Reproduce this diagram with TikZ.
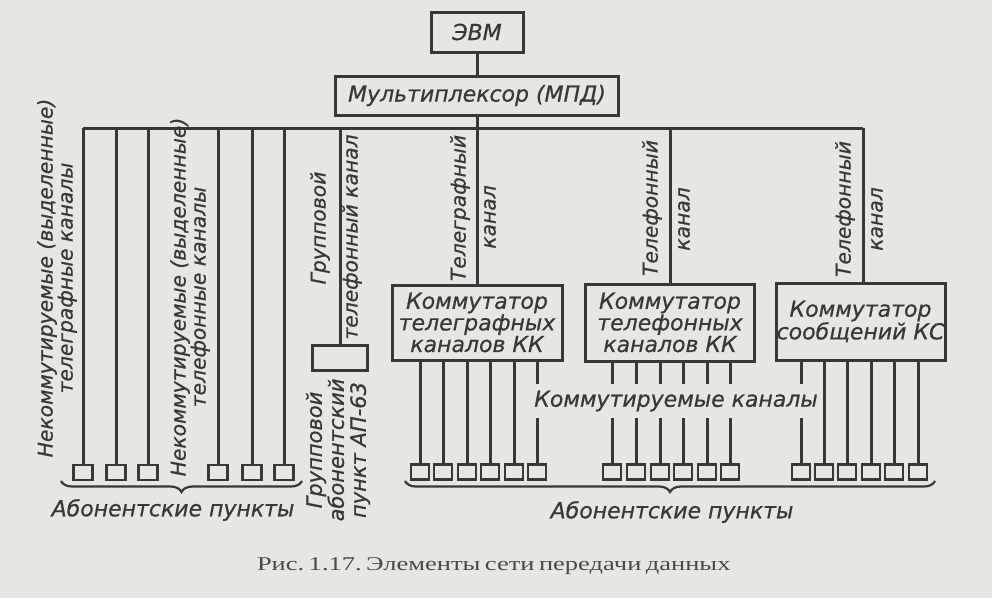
\documentclass[tikz,border=0pt]{standalone}
\usepackage{fontspec}
\setmainfont{Liberation Serif}
\newfontfamily\gost{DejaVu Sans}[FakeBold=0.7]
\newfontfamily\capfont{Liberation Serif}[FakeStretch=1.36]
\usetikzlibrary{decorations.pathreplacing}
\definecolor{bg}{HTML}{E6E6E2}
\definecolor{ink}{HTML}{383838}
\definecolor{capink}{HTML}{4A4A4A}
\tikzset{
  box/.style={draw=ink, line width=3pt, inner sep=0pt, align=center, text=ink,
    font=\gost\itshape\fontsize{22}{19}\selectfont},
  lbl/.style={text=ink, inner sep=0pt, align=center,
    font=\gost\itshape\fontsize{20.3}{19}\selectfont},
  vlbl/.style={lbl, rotate=90},
  term/.style={draw=ink, line width=2.2pt, minimum width=18pt, minimum height=15pt, inner sep=0pt},
  wire/.style={draw=ink, line width=3pt},
  bracestyle/.style={draw=ink, line width=2.2pt, decorate,
    decoration={brace, amplitude=11pt}}
}
\begin{document}
\begin{tikzpicture}[x=1pt,y=-1pt]
\fill[bg] (0,0) rectangle (992,598);
\useasboundingbox (0,0) rectangle (992,598);

% main boxes
\node[box, minimum width=92pt, minimum height=40pt] (evm) at (477,32) {ЭВМ};
\node[box, minimum width=283pt, minimum height=39pt] (mux) at (477,95.5) {Мультиплексор (МПД)};
\node[box, minimum width=170pt, minimum height=75pt] (kk1) at (477,322.5) {Коммутатор\\телеграфных\\каналов КК};
\node[box, minimum width=169pt, minimum height=77pt] (kk2) at (670,322.5) {Коммутатор\\телефонных\\каналов КК};
\node[box, minimum width=169pt, minimum height=77pt] (ks) at (860.5,321.5) {Коммутатор\\сообщений КС};
\node[draw=ink, line width=3pt, minimum width=55pt, minimum height=25pt, inner sep=0pt] (ap) at (340,357.5) {};

% bus
\coordinate (busL) at (83,128);
\coordinate (busR) at (863,128);
\coordinate (gtop) at (0,384);
\coordinate (gbot) at (0,418);

\draw[wire] (evm) -- (mux);
\draw[wire] (mux.south) -- (kk1.north);
\draw[wire] (busL) -- (busR);
\draw[wire] (kk2.north |- busL) -- (kk2.north);
\draw[wire] (busR) -- (busR |- ks.north);
\draw[wire] (ap.north |- busL) -- (ap.north);

% left terminals
\foreach \x [count=\i] in {83,116,148,218,252,284} {
  \node[term, minimum width=19pt] (L\i) at (\x,472.5) {};
  \draw[wire] (L\i.north |- busL) -- (L\i.north);
}
% KK1 terminals
\foreach \x [count=\i] in {420,443,467,490,514,537} {
  \node[term] (A\i) at (\x,472) {};
}
\foreach \i in {1,...,5} { \draw[wire] (A\i.north |- kk1.south) -- (A\i.north); }
\draw[wire] (A6.north |- kk1.south) -- (A6.north |- gtop) (A6.north |- gbot) -- (A6.north);
% KK2 terminals
\foreach \x [count=\i] in {612,636,660,683,707,730} {
  \node[term] (B\i) at (\x,472) {};
  \draw[wire] (B\i.north |- kk2.south) -- (B\i.north |- gtop) (B\i.north |- gbot) -- (B\i.north);
}
% KS terminals
\foreach \x [count=\i] in {801,824,847,871,894,918} {
  \node[term] (C\i) at (\x,472) {};
}
\draw[wire] (C1.north |- ks.south) -- (C1.north |- gtop) (C1.north |- gbot) -- (C1.north);
\foreach \i in {2,...,6} { \draw[wire] (C\i.north |- ks.south) -- (C\i.north); }

% braces
\coordinate (b1s) at (302,481);
\coordinate (b1e) at (61,481);
\coordinate (b2s) at (935,481);
\coordinate (b2e) at (405,481);
\draw[bracestyle] (b1s) -- (b1e);
\draw[bracestyle] (b2s) -- (b2e);

% labels
\node[vlbl] (t1) at (57,278) {Некоммутируемые (выделенные)\\телеграфные каналы};
\node[vlbl] (t2) at (190,297) {Некоммутируемые (выделенные)\\телефонные каналы};
\node[vlbl] (t3a) at (320,228) {Групповой};
\node[vlbl] (t3b) at (352,237) {телефонный канал};
\node[vlbl] (t4a) at (460,208) {Телеграфный};
\node[vlbl] (t4b) at (490,217) {канал};
\node[vlbl] (t5a) at (652,208) {Телефонный};
\node[vlbl] (t5b) at (684,219) {канал};
\node[vlbl] (t6a) at (845,209) {Телефонный};
\node[vlbl] (t6b) at (877,219) {канал};
\node[vlbl, font=\gost\itshape\fontsize{21}{22}\selectfont] (t7) at (338,450) {Групповой\\абонентский\\пункт АП-63};
\node[lbl, font=\gost\itshape\fontsize{22}{19}\selectfont] (sw) at (676,401) {Коммутируемые каналы};
\node[lbl, font=\gost\itshape\fontsize{22}{19}\selectfont] (ab1) at (173,510) {Абонентские пункты};
\node[lbl, font=\gost\itshape\fontsize{22}{19}\selectfont] (ab2) at (672,512) {Абонентские пункты};
\node[text=capink, inner sep=0pt, font=\capfont\fontsize{19.5}{22}\selectfont] (cap) at (491,566)
  {\frenchspacing\makebox[468pt][s]{Рис. 1.17. Элементы сети передачи данных}};
\end{tikzpicture}
\end{document}
